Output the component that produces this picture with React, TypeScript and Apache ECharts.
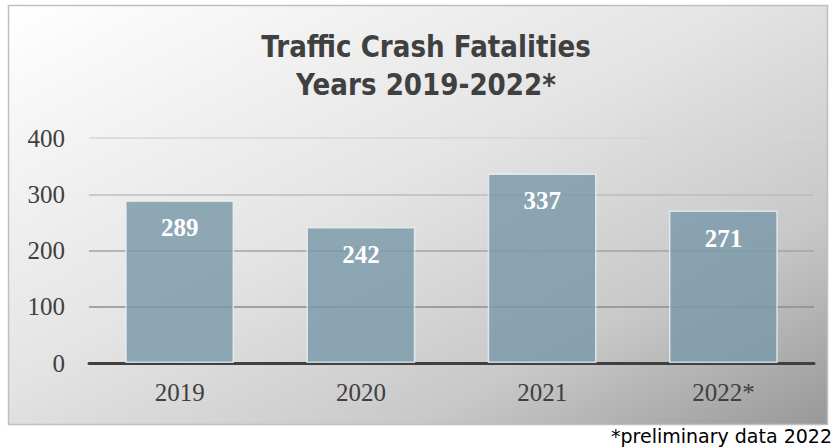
import React, { useEffect, useRef } from "react";
import * as echarts from "echarts";

const categories = ["2019", "2020", "2021", "2022*"];
const fatalities = [289, 242, 337, 271];
const yTicks = [0, 100, 200, 300, 400];
const titleLines = ["Traffic Crash Fatalities", "Years 2019-2022*"];
const footnote = "*preliminary data 2022";

export default function App() {
  const ref = useRef<HTMLDivElement>(null);
  useEffect(() => {
    if (!ref.current) return;
    const chart = echarts.init(ref.current, null, { renderer: "svg" });
    const titleFont = "bold 31px 'DejaVu Sans'";
    chart.setOption({
      animation: false,
      backgroundColor: "#ffffff",
      graphic: [
        {
          type: "rect",
          z: -10,
          silent: true,
          shape: { x: 8.5, y: 5.5, width: 819, height: 419 },
          style: {
            fill: new echarts.graphic.LinearGradient(0, 0, 1, 1, [
              { offset: 0, color: "#ffffff" },
              { offset: 0.45, color: "#e4e4e4" },
              { offset: 0.75, color: "#c8c8c8" },
              { offset: 1, color: "#989898" },
            ]),
            stroke: "#bfbfbf",
            lineWidth: 1.5,
          },
        },
        {
          type: "text",
          x: 426,
          y: 46.5,
          scaleX: 0.845,
          style: {
            text: titleLines[0],
            fill: "#404040",
            font: titleFont,
            align: "center",
            verticalAlign: "middle",
          },
        },
        {
          type: "text",
          x: 426,
          y: 84.5,
          scaleX: 0.845,
          style: {
            text: titleLines[1],
            fill: "#404040",
            font: titleFont,
            align: "center",
            verticalAlign: "middle",
          },
        },
        {
          type: "text",
          x: 832,
          y: 436,
          style: {
            text: footnote,
            fill: "#000000",
            font: "19px 'DejaVu Sans'",
            align: "right",
            verticalAlign: "middle",
          },
        },
      ],
      grid: { left: 89, right: 22, top: 138, bottom: 85 },
      xAxis: {
        type: "category",
        data: categories,
        axisLine: { lineStyle: { color: "#404040", width: 3 } },
        axisTick: { show: false },
        axisLabel: {
          color: "#404040",
          fontFamily: "'Liberation Serif'",
          fontSize: 25,
          margin: 17,
        },
      },
      yAxis: {
        type: "value",
        min: 0,
        max: 400,
        interval: 100,
        axisLine: { show: false },
        axisTick: { show: false },
        axisLabel: {
          color: "#404040",
          fontFamily: "'Liberation Serif'",
          fontSize: 25,
          margin: 24,
          formatter: (v: number) => (yTicks.includes(v) ? String(v) : ""),
        },
        splitLine: {
          lineStyle: {
            color: ["#404040", "#8c8c8c", "#a3a3a3", "#bdbdbd", "#d6d6d6"],
            width: 1.5,
          },
        },
      },
      series: [
        {
          type: "bar",
          data: fatalities,
          barWidth: "60%",
          itemStyle: {
            color: "rgba(122,152,170,0.82)",
            borderColor: "rgba(235,240,245,0.8)",
            borderWidth: 1.5,
          },
          label: {
            show: true,
            position: "insideTop",
            distance: 15,
            color: "#ffffff",
            fontFamily: "'Liberation Serif'",
            fontWeight: "bold",
            fontSize: 25,
          },
        },
      ],
    });
    return () => chart.dispose();
  }, []);
  return (
    <div
      ref={ref}
      style={{ position: "fixed", left: 0, top: 0, width: 836, height: 448 }}
    />
  );
}
